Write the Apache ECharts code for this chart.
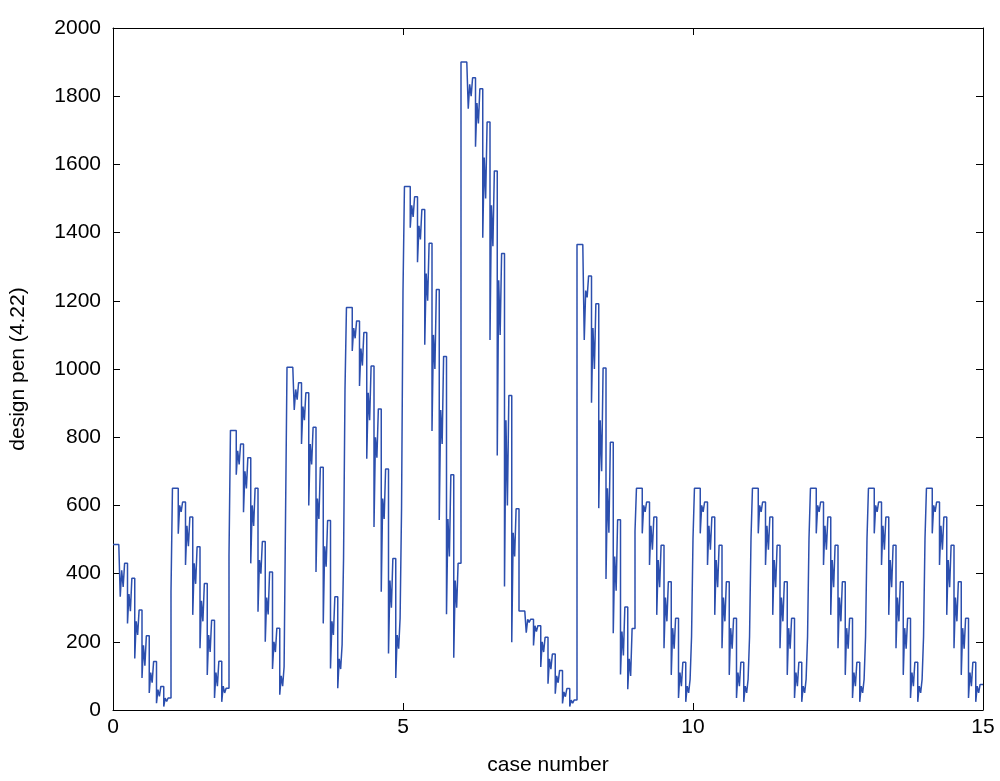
<!DOCTYPE html>
<html><head><meta charset="utf-8">
<script src="https://cdn.jsdelivr.net/npm/echarts@6/dist/echarts.min.js"></script>
<style>html,body{margin:0;padding:0;background:#fff}#c{width:1000px;height:781px}</style>
</head><body><div id="c"></div>
<script>
// values read per case block (40 steps per unit of case number)
const c0  = [485,485,485,485,485, 332,410,361,430,430, 254,340,290,386,386, 151,260,220,293,293, 94,190,130,218,218, 50,110,80,142,142, 20,60,40,69,69, 10,35,25,35,35];
const c1  = [347,650,650,650,650, 517,600,581,610,610, 425,540,480,566,566, 279,430,370,479,479, 181,320,260,371,371, 103,220,170,263,263, 35,110,70,143,143, 24,70,50,64,64];
const c2  = [454,820,820,820,820, 690,760,720,780,780, 580,700,650,740,740, 430,600,540,650,650, 288,440,400,494,494, 200,330,280,405,405, 120,200,170,240,240, 45,100,70,127,571];
const c3  = [1005,1005,1005,1005,1005, 880,940,910,960,960, 780,890,850,930,930, 600,780,720,829,829, 405,620,560,712,712, 254,480,420,556,556, 122,260,220,332,332, 64,150,120,191,444];
const c4  = [941,1180,1180,1180,1180, 1053,1120,1090,1141,1141, 950,1060,1010,1107,1107, 737,930,850,1009,1009, 537,800,740,883,883, 347,620,560,707,707, 166,380,300,444,444, 94,220,180,269,591];
const c5  = [1228,1535,1535,1535,1535, 1414,1480,1446,1505,1505, 1313,1420,1380,1468,1468, 1071,1280,1200,1369,1369, 818,1100,1000,1233,1233, 557,880,780,1037,1037, 281,560,450,690,690, 153,380,300,430,430];
const c6  = [1900,1900,1900,1900,1900, 1763,1835,1800,1854,1854, 1652,1780,1720,1822,1822, 1385,1620,1500,1724,1724, 1085,1480,1360,1581,1581, 746,1260,1100,1339,1339, 362,850,600,922,922, 199,520,450,590,590];
const c7  = [290,290,290,290,290, 227,266,257,266,266, 189,247,230,247,247, 126,200,170,213,213, 77,150,120,164,164, 48,100,80,116,116, 19,53,39,63,63, 10,29,20,29,29];
const c8  = [1365,1365,1365,1365,1365, 1085,1230,1210,1273,1273, 901,1120,1000,1191,1191, 592,850,700,1003,1003, 384,650,520,785,785, 225,450,350,558,558, 104,230,160,302,302, 61,150,100,239,239];
const c9  = [524,650,650,650,650, 518,600,581,610,610, 425,540,470,566,566, 279,440,360,483,483, 181,330,260,376,376, 103,240,180,269,269, 35,110,70,140,140, 24,70,50,90,215];
const c10 = [503,650,650,650,650, 518,600,581,610,610, 425,540,470,566,566, 279,440,360,483,483, 181,330,260,376,376, 103,240,180,269,269, 35,110,70,140,140, 24,70,50,90,215];
const c11 = [503,650,650,650,650, 518,600,581,610,610, 425,540,470,566,566, 279,440,360,483,483, 181,330,260,376,376, 103,240,180,269,269, 35,110,70,140,140, 24,70,50,90,215];
const c12 = [503,650,650,650,650, 518,600,581,610,610, 425,540,470,566,566, 279,440,360,483,483, 181,330,260,376,376, 103,240,180,269,269, 35,110,70,140,140, 24,70,50,90,215];
const c13 = [503,650,650,650,650, 518,600,581,610,610, 425,540,470,566,566, 279,440,360,483,483, 181,330,260,376,376, 103,240,180,269,269, 35,110,70,140,140, 24,70,50,90,215];
const c14 = [503,650,650,650,650, 518,600,581,610,610, 425,540,470,566,566, 279,440,360,483,483, 181,330,260,376,376, 103,240,180,269,269, 35,110,70,140,140, 24,70,50,75,75, 75];
const stepsPerCase = 40;
const xTicks = [0, 5, 10, 15];
const yTicks = [0,200,400,600,800,1000,1200,1400,1600,1800,2000];

const values = [].concat(c0,c1,c2,c3,c4,c5,c6,c7,c8,c9,c10,c11,c12,c13,c14);
const data = values.map((v,i)=>[i/stepsPerCase, v]);

const chart = echarts.init(document.getElementById('c'), null, {renderer:'canvas'});
const font = 'Liberation Sans, Arial, sans-serif';
const axisCommon = {
  axisLine:{show:true, onZero:false, lineStyle:{color:'#000', width:1}},
  axisTick:{show:true, inside:true, length:7, lineStyle:{color:'#000'}},
  splitLine:{show:false}
};
chart.setOption({
  animation:false,
  backgroundColor:'#fff',
  grid:{left:113, right:17, top:28, bottom:69, containLabel:false},
  xAxis:[
    Object.assign({type:'value', min:0, max:15, interval:5, position:'bottom',
      name:'case number', nameLocation:'middle', nameGap:45,
      nameTextStyle:{fontFamily:font, fontSize:21, color:'#000'},
      axisLabel:{fontFamily:font, fontSize:21, color:'#000', margin:7,
        formatter:v=>String(v)}}, axisCommon),
    Object.assign({type:'value', min:0, max:15, interval:5, position:'top',
      axisLabel:{show:false}}, axisCommon)
  ],
  yAxis:[
    Object.assign({type:'value', min:0, max:2000, interval:200, position:'left',
      name:'design pen (4.22)', nameLocation:'middle', nameGap:84, nameRotate:90,
      nameTextStyle:{fontFamily:font, fontSize:21, color:'#000'},
      axisLabel:{fontFamily:font, fontSize:21, color:'#000', margin:12,
        formatter:v=>String(v)}}, axisCommon),
    Object.assign({type:'value', min:0, max:2000, interval:200, position:'right',
      axisLabel:{show:false}}, axisCommon)
  ],
  series:[{
    type:'line', step:'end', data:data, showSymbol:false, symbol:'none',
    lineStyle:{color:'#2c4fae', width:1.5}, xAxisIndex:0, yAxisIndex:0
  }]
});
</script></body></html>
